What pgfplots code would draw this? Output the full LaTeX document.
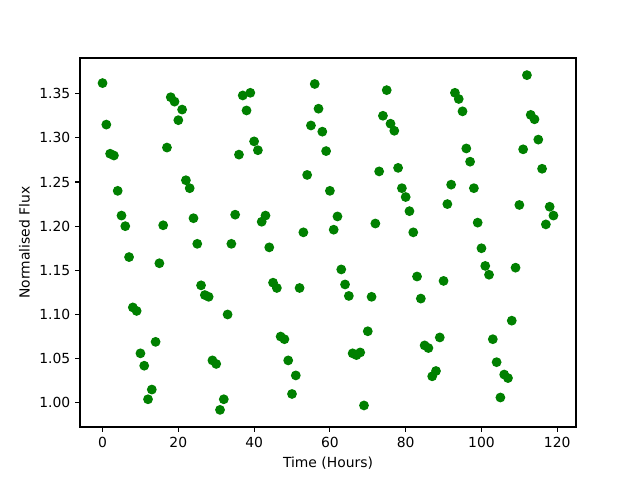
\documentclass[border=0pt]{standalone}
\usepackage{fontspec}
\setmainfont{DejaVu Sans}
\usepackage{pgfplots}
\pgfplotsset{compat=1.18}
\definecolor{mplgreen}{HTML}{008000}
\begin{document}
\begin{tikzpicture}[x=1pt,y=1pt]
\useasboundingbox (0,0) rectangle (460.8,345.6);
\begin{axis}[
  at={(57.6pt,38.16pt)}, anchor=south west,
  scale only axis, width=357.12pt, height=265.68pt,
  xmin=-5.95, xmax=124.95, ymin=0.9726, ymax=1.3904,
  xtick={0,20,40,60,80,100,120},
  ytick={1.00,1.05,1.10,1.15,1.20,1.25,1.30,1.35},
  yticklabel style={/pgf/number format/.cd,fixed,fixed zerofill,precision=2},
  /pgf/number format/assume math mode=true,
  tick align=outside, tick pos=left, major tick length=3.5pt,
  tick style={black, line width=0.8pt},
  axis line style={line width=0.8pt},
  font=\fontsize{10}{12}\selectfont,
  xlabel={Time (Hours)}, ylabel={Normalised Flux},
  clip=false,
]
\addplot[only marks, mark=*, mark size=3pt, color=mplgreen, mark options={draw=mplgreen, fill=mplgreen, line width=1pt}] coordinates {
(0,1.362)(1,1.315)(2,1.282)(3,1.280)(4,1.240)(5,1.212)(6,1.200)(7,1.165)(8,1.108)(9,1.104)
(10,1.056)(11,1.042)(12,1.004)(13,1.015)(14,1.069)(15,1.158)(16,1.201)(17,1.289)(18,1.346)(19,1.341)
(20,1.320)(21,1.332)(22,1.252)(23,1.243)(24,1.209)(25,1.180)(26,1.133)(27,1.122)(28,1.120)(29,1.048)
(30,1.044)(31,0.992)(32,1.004)(33,1.100)(34,1.180)(35,1.213)(36,1.281)(37,1.348)(38,1.331)(39,1.351)
(40,1.296)(41,1.286)(42,1.205)(43,1.212)(44,1.176)(45,1.136)(46,1.130)(47,1.075)(48,1.072)(49,1.048)
(50,1.010)(51,1.031)(52,1.130)(53,1.193)(54,1.258)(55,1.314)(56,1.361)(57,1.333)(58,1.307)(59,1.285)
(60,1.240)(61,1.196)(62,1.211)(63,1.151)(64,1.134)(65,1.121)(66,1.056)(67,1.054)(68,1.057)(69,0.997)
(70,1.081)(71,1.120)(72,1.203)(73,1.262)(74,1.325)(75,1.354)(76,1.316)(77,1.308)(78,1.266)(79,1.243)
(80,1.233)(81,1.217)(82,1.193)(83,1.143)(84,1.118)(85,1.065)(86,1.062)(87,1.030)(88,1.036)(89,1.074)
(90,1.138)(91,1.225)(92,1.247)(93,1.351)(94,1.344)(95,1.330)(96,1.288)(97,1.273)(98,1.243)(99,1.204)
(100,1.175)(101,1.155)(102,1.145)(103,1.072)(104,1.046)(105,1.006)(106,1.032)(107,1.028)(108,1.093)(109,1.153)
(110,1.224)(111,1.287)(112,1.371)(113,1.326)(114,1.321)(115,1.298)(116,1.265)(117,1.202)(118,1.222)(119,1.212)
};
\end{axis}
\end{tikzpicture}
\end{document}
